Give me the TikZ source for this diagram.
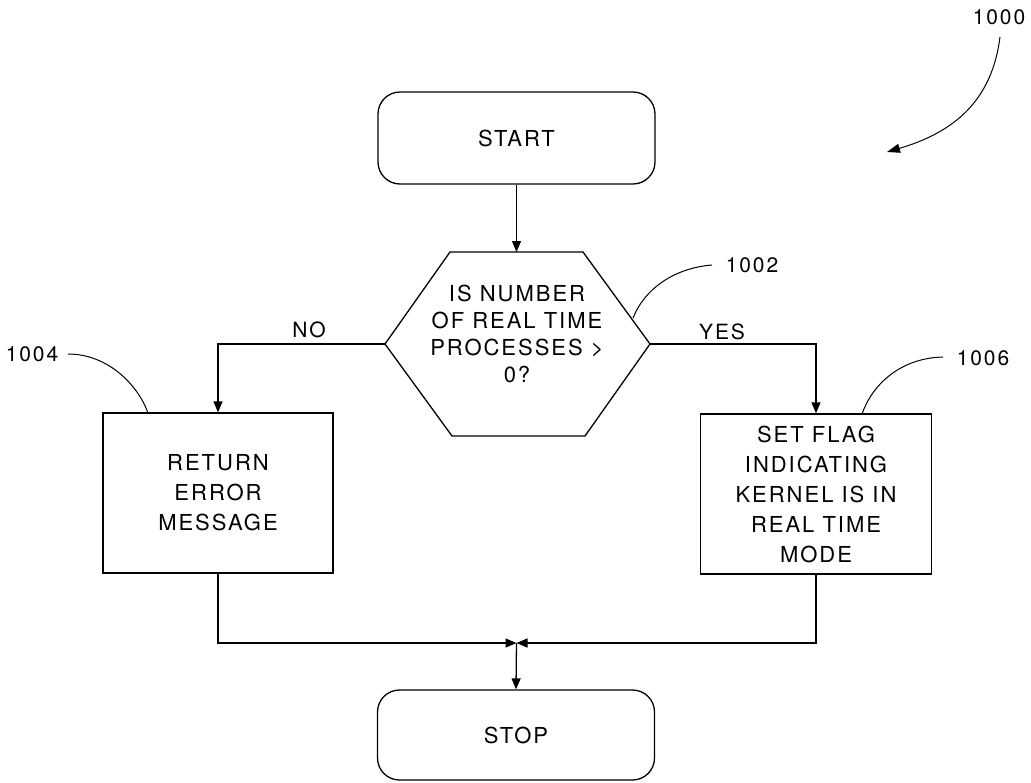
\documentclass[tikz,border=0pt]{standalone}
\usepackage{fontspec}
\setmainfont{TeX Gyre Heros}[LetterSpace=9]
\usetikzlibrary{arrows.meta}
\tikzset{
  line/.style={line width=1.3pt, draw=black},
  arr/.style={line, -{Triangle[length=11pt,width=9pt]}},
  term/.style={line, rounded corners=22pt, minimum width=277pt, inner sep=0pt, align=center},
  proc/.style={line, minimum width=230pt, minimum height=160pt, inner sep=0pt, align=center},
  txt/.style={font=\fontsize{22}{30}\selectfont},
  lbl/.style={font=\fontsize{21}{24}\selectfont, inner sep=0pt},
  lead/.style={line width=1pt}
}
\begin{document}
\begin{tikzpicture}[x=1pt,y=-1pt]
\useasboundingbox (0,0) rectangle (1031,782);
% terminals
\node[term, txt, minimum height=92pt] (start) at (516.5,138) {START};
\node[term, txt, minimum height=90pt] (stop) at (516,735) {STOP};
% decision hexagon
\coordinate (htl) at (450,252);
\coordinate (htr) at (583,252);
\coordinate (hr) at (650,344);
\coordinate (hbr) at (585,436);
\coordinate (hbl) at (452,436);
\coordinate (hl) at (385,344);
\coordinate (htop) at (516.5,252);
\draw[line] (htl) -- (htr) -- (hr) -- (hbr) -- (hbl) -- (hl) -- cycle;
\node[align=center, font=\fontsize{22}{27}\selectfont] (dec) at (517,334) {IS NUMBER\\OF REAL TIME\\PROCESSES >\\0?};
% process boxes
\node[proc, txt] (err) at (218,493) {RETURN\\ERROR\\MESSAGE};
\node[proc, txt, minimum width=231pt] (flag) at (816,494) {SET FLAG\\INDICATING\\KERNEL IS IN\\REAL TIME\\MODE};
\coordinate (merge) at (516.5,643);
% connectors
\draw[arr] (start.south) -- (htop);
\draw[arr] (hl) -| (err.north);
\draw[arr] (hr) -| (flag.north);
\draw[arr] (err.south) |- (merge);
\draw[arr] (flag.south) |- (merge);
\draw[arr] (merge) -- (stop.north);
% branch labels
\node[lbl] (no) at (309,330) {NO};
\node[lbl] (yes) at (722,332) {YES};
% reference numerals
\node[lbl] (n1000) at (999,17) {1000};
\node[lbl] (n1002) at (752,265) {1002};
\node[lbl] (n1004) at (32,354) {1004};
\node[lbl] (n1006) at (983,358) {1006};
\coordinate (l1000) at (1000,37);
\coordinate (t1000) at (887,152);
\draw[lead, -{Triangle[length=13pt,width=9pt]}] (l1000) .. controls (992,100) and (955,132) .. (t1000);
\coordinate (l1002a) at (712,265);
\coordinate (l1002b) at (633,318);
\draw[lead] (l1002a) .. controls (675,268) and (645,288) .. (l1002b);
\coordinate (l1004a) at (68,354);
\coordinate (l1004b) at (148,413);
\draw[lead] (l1004a) .. controls (108,354) and (138,385) .. (l1004b);
\coordinate (l1006a) at (943,357);
\coordinate (l1006b) at (862,414);
\draw[lead] (l1006a) .. controls (900,358) and (872,385) .. (l1006b);
\end{tikzpicture}
\end{document}
